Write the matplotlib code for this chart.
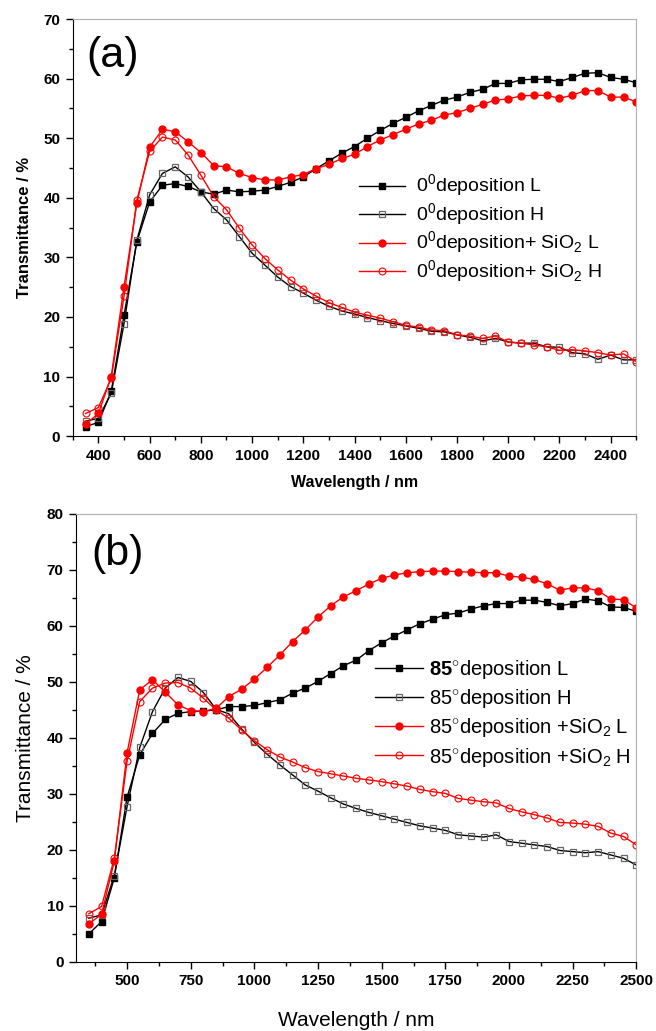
import numpy as np
import matplotlib
matplotlib.use('Agg')
import matplotlib.pyplot as plt
from matplotlib.ticker import MultipleLocator

plt.rcParams['font.family'] = ['Liberation Sans', 'DejaVu Sans']
plt.rcParams['mathtext.fontset'] = 'custom'
plt.rcParams['mathtext.rm'] = 'Liberation Sans'
plt.rcParams['mathtext.bf'] = 'Liberation Sans:bold'

# wavelength grid of the markers (nm)
wl = list(range(350, 2501, 50))

# panel (a): 0 deg deposition
a_L = [1.6, 2.3, 7.5, 20.3, 32.6, 39.3, 42.1, 42.4, 41.9, 41.0, 40.6, 41.3, 41.0, 41.1, 41.3,
       41.9, 42.6, 43.5, 44.9, 46.2, 47.5, 48.6, 50.0, 51.3, 52.5, 53.5, 54.6, 55.5, 56.4,
       56.9, 57.7, 58.2, 59.2, 59.2, 59.8, 59.9, 59.9, 59.5, 60.2, 60.9, 61.0, 60.2, 59.9, 59.3]
a_H = [2.5, 3.0, 7.2, 18.9, 32.9, 40.5, 44.1, 45.2, 43.5, 41.0, 38.2, 36.3, 33.5, 30.7, 28.7,
       26.7, 25.1, 24.0, 22.8, 21.8, 21.0, 20.5, 19.9, 19.4, 18.9, 18.5, 18.1, 17.6, 17.5,
       17.0, 16.6, 16.0, 16.4, 15.8, 15.6, 15.6, 15.0, 14.9, 14.0, 13.8, 12.9, 13.6, 12.8, 12.8]
a_SL = [2.0, 3.8, 10.0, 25.1, 39.1, 48.5, 51.5, 51.1, 49.4, 47.6, 45.4, 45.2, 44.1, 43.4, 43.0,
        43.0, 43.5, 43.9, 44.9, 45.6, 46.6, 47.3, 48.6, 49.7, 50.6, 51.5, 52.4, 53.0, 53.9,
        54.3, 55.0, 55.7, 56.4, 56.6, 57.1, 57.2, 57.2, 56.7, 57.2, 58.0, 58.0, 56.9, 56.9, 56.1]
a_SH = [3.8, 4.8, 9.7, 23.5, 39.6, 47.8, 50.2, 49.7, 47.2, 43.8, 40.2, 38.0, 34.9, 32.1, 29.8,
        27.9, 26.2, 24.7, 23.5, 22.4, 21.6, 20.8, 20.3, 19.8, 19.2, 18.6, 18.3, 17.8, 17.7,
        17.0, 16.8, 16.4, 16.8, 15.8, 15.6, 15.3, 15.0, 14.4, 14.5, 14.3, 14.0, 13.6, 13.8, 12.5]

# panel (b): 85 deg deposition
b_L = [5.0, 7.2, 15.0, 29.4, 37.0, 40.8, 43.3, 44.4, 44.7, 44.8, 45.0, 45.6, 45.6, 45.8, 46.3,
       46.8, 48.0, 48.9, 50.1, 51.5, 52.9, 53.9, 55.6, 57.0, 58.2, 59.3, 60.4, 61.2, 62.0,
       62.3, 63.0, 63.6, 64.0, 64.0, 64.6, 64.6, 64.2, 63.6, 64.0, 64.8, 64.5, 63.4, 63.3, 62.6]
b_H = [7.8, 8.4, 15.4, 27.7, 38.3, 44.7, 48.9, 50.8, 50.1, 48.1, 45.1, 44.3, 41.6, 39.2, 37.1,
       35.2, 33.4, 31.6, 30.5, 29.3, 28.2, 27.4, 26.7, 26.1, 25.5, 24.9, 24.3, 23.9, 23.5,
       22.7, 22.5, 22.3, 22.7, 21.5, 21.2, 20.9, 20.6, 19.9, 19.7, 19.5, 19.7, 19.1, 18.5, 17.3]
b_SL = [6.8, 8.5, 18.0, 37.3, 48.6, 50.4, 48.2, 45.9, 44.9, 44.7, 45.3, 47.4, 48.7, 50.5, 52.6,
        54.8, 57.2, 59.3, 61.6, 63.6, 65.2, 66.3, 67.5, 68.5, 69.1, 69.5, 69.7, 69.8, 69.8,
        69.7, 69.6, 69.5, 69.5, 68.9, 68.7, 68.3, 67.5, 66.4, 66.8, 66.8, 66.3, 64.8, 64.7, 63.2]
b_SH = [8.6, 9.9, 18.5, 35.8, 46.5, 48.9, 49.8, 49.9, 48.9, 47.1, 45.0, 43.5, 41.4, 39.5, 37.9,
        36.6, 35.7, 34.7, 34.0, 33.6, 33.2, 32.8, 32.5, 32.2, 31.8, 31.4, 30.8, 30.4, 30.1,
        29.2, 28.9, 28.6, 28.4, 27.4, 26.8, 26.3, 25.7, 24.9, 24.8, 24.6, 24.2, 23.0, 22.4, 20.9]

labels_a = ['0$^0$deposition L', '0$^0$deposition H',
            '0$^0$deposition+ SiO$_2$ L', '0$^0$deposition+ SiO$_2$ H']
labels_b = [r'$\mathbf{85}^{\circ}$deposition L', r'85$^{\circ}$deposition H',
            r'85$^{\circ}$deposition +SiO$_2$ L', r'85$^{\circ}$deposition +SiO$_2$ H']

RED = '#ff0000'


def draw(ax, L, H, SL, SH, labels):
    ax.plot(wl, L, '-s', color='black', lw=1.0, ms=4.5, mfc='black', mec='black', label=labels[0])
    ax.plot(wl, H, '-s', color='black', lw=1.0, ms=4.5, mfc='none', mec='#666666', mew=0.9, label=labels[1])
    ax.plot(wl, SL, '-o', color=RED, lw=1.0, ms=5, mfc=RED, mec=RED, label=labels[2])
    ax.plot(wl, SH, '-o', color=RED, lw=1.0, ms=5, mfc='none', mec=RED, mew=0.8, label=labels[3])
    ax.set_xlim(300, 2500)
    for s in ['top', 'right']:
        ax.spines[s].set_color('#b0b0b0')
    ax.tick_params(which='both', direction='out', top=False, right=False)
    ax.tick_params(which='major', length=5, width=1, labelsize=11, pad=4)
    ax.tick_params(which='minor', length=3, width=1)


fig = plt.figure(figsize=(6.56, 10.31), dpi=100)

ax1 = fig.add_axes([0.111, 0.577, 0.859, 0.4045])
draw(ax1, a_L, a_H, a_SL, a_SH, labels_a)
ax1.set_ylim(0, 70)
ax1.set_xticks(range(400, 2401, 200))
ax1.xaxis.set_minor_locator(MultipleLocator(100))
ax1.yaxis.set_major_locator(MultipleLocator(10))
ax1.yaxis.set_minor_locator(MultipleLocator(5))
for t in ax1.get_xticklabels() + ax1.get_yticklabels():
    t.set_fontweight('bold')
ax1.set_xlabel('Wavelength / nm', fontsize=11.5, fontweight='bold', labelpad=9)
ax1.set_ylabel('Transmittance / %', fontsize=12, fontweight='bold', labelpad=8)
ax1.text(0.024, 0.96, '(a)', transform=ax1.transAxes, fontsize=31, ha='left', va='top')
ax1.legend(loc='upper left', bbox_to_anchor=(0.49, 0.655), frameon=False, fontsize=14,
           handlelength=2.4, handletextpad=0.55, labelspacing=0.1, borderpad=0)

ax2 = fig.add_axes([0.116, 0.067, 0.854, 0.4345])
draw(ax2, b_L, b_H, b_SL, b_SH, labels_b)
ax2.set_ylim(0, 80)
ax2.set_xticks(range(500, 2501, 250))
ax2.xaxis.set_minor_locator(MultipleLocator(125))
ax2.yaxis.set_major_locator(MultipleLocator(10))
ax2.yaxis.set_minor_locator(MultipleLocator(5))
for t in ax2.get_xticklabels() + ax2.get_yticklabels():
    t.set_fontweight('bold')
ax2.set_xlabel('Wavelength / nm', fontsize=15, labelpad=16)
ax2.set_ylabel('Transmittance / %', fontsize=15, labelpad=8)
ax2.text(0.028, 0.955, '(b)', transform=ax2.transAxes, fontsize=31, ha='left', va='top')
ax2.legend(loc='upper left', bbox_to_anchor=(0.515, 0.70), frameon=False, fontsize=14.5,
           handlelength=2.4, handletextpad=0.3, labelspacing=0.3, borderpad=0)

fig.savefig('out.png', dpi=100)
